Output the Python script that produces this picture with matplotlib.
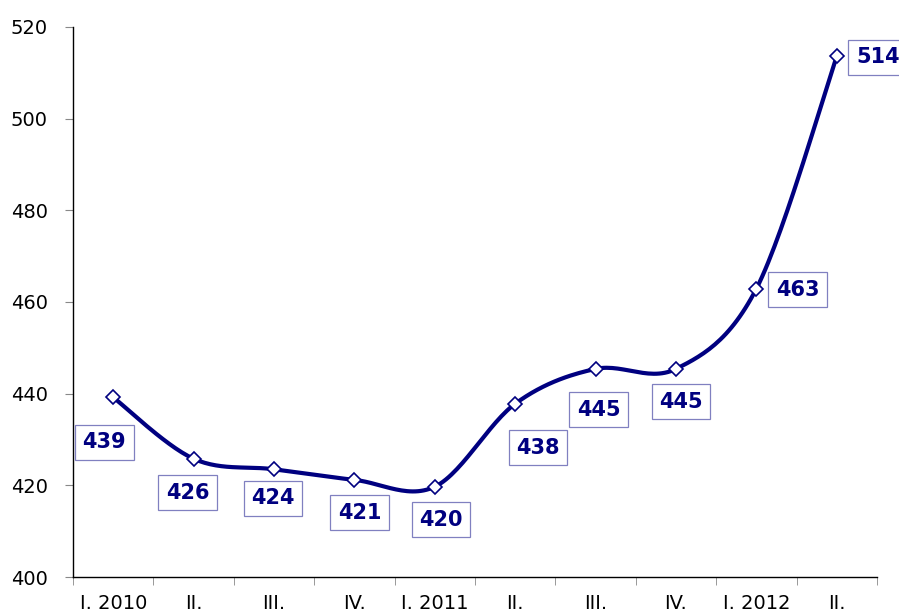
import numpy as np
import matplotlib.pyplot as plt
from matplotlib.ticker import FixedLocator

# data
categories = ['I. 2010', 'II.', 'III.', 'IV.', 'I. 2011', 'II.', 'III.', 'IV.', 'I. 2012', 'II.']
values = [439.2, 425.8, 423.5, 421.2, 419.7, 437.8, 445.4, 445.4, 462.9, 513.6]
value_labels = ['439', '426', '424', '421', '420', '438', '445', '445', '463', '514']

# label offsets in pixels (dx, dy) from each point
label_offsets = [(-9, -45), (-6, -34), (-1, -29), (5, -33), (6, -33),
                 (23, -44), (3, -41), (5, -33), (41, -1), (41, -1)]

NAVY = '#000080'


def smooth_curve(x, y, steps=30):
    # excel-like smoothed line (catmull-rom as cubic bezier)
    x = np.asarray(x, float)
    y = np.asarray(y, float)
    px = np.concatenate(([x[0]], x, [x[-1]]))
    py = np.concatenate(([y[0]], y, [y[-1]]))
    xs, ys = [], []
    t = np.linspace(0, 1, steps)
    for i in range(1, len(px) - 2):
        p0 = np.array([px[i], py[i]])
        p3 = np.array([px[i + 1], py[i + 1]])
        c1 = p0 + (np.array([px[i + 1], py[i + 1]]) - np.array([px[i - 1], py[i - 1]])) / 6
        c2 = p3 - (np.array([px[i + 2], py[i + 2]]) - np.array([px[i], py[i]])) / 6
        b = ((1 - t)[:, None] ** 3 * p0 + 3 * ((1 - t) ** 2 * t)[:, None] * c1
             + 3 * ((1 - t) * t ** 2)[:, None] * c2 + (t ** 3)[:, None] * p3)
        xs.extend(b[:, 0])
        ys.extend(b[:, 1])
    return np.array(xs), np.array(ys)


plt.rcParams['font.family'] = ['DejaVu Sans Condensed', 'DejaVu Sans']

fig = plt.figure(figsize=(8.99, 6.13), dpi=100)
ax = fig.add_axes([0.0812, 0.0587, 0.8943, 0.8973])

x = np.arange(len(categories))
sx, sy = smooth_curve(x, values)
ax.plot(sx, sy, color=NAVY, linewidth=3.0, solid_capstyle='round', zorder=2)
ax.plot(x, values, linestyle='none', marker='D', markersize=7.5,
        markerfacecolor='white', markeredgecolor=NAVY, markeredgewidth=1.2, zorder=3)

for xi, yi, lab, (dx, dy) in zip(x, values, value_labels, label_offsets):
    ax.annotate(lab, (xi, yi), xytext=(dx * 0.72, dy * 0.72), textcoords='offset points',
                ha='center', va='center', fontsize=15, fontweight='bold', color=NAVY,
                bbox=dict(boxstyle='square,pad=0.36', facecolor='white',
                          edgecolor='#8080c0', linewidth=0.9),
                annotation_clip=False, zorder=4)

ax.set_xlim(-0.5, len(categories) - 0.5)
ax.set_ylim(400, 520)
ax.set_yticks(np.arange(400, 521, 20))
ax.set_xticks(x)
ax.set_xticklabels(categories)
ax.xaxis.set_minor_locator(FixedLocator(np.arange(-0.5, len(categories), 1.0)))

ax.spines['top'].set_visible(False)
ax.spines['right'].set_visible(False)
for s in ('left', 'bottom'):
    ax.spines[s].set_linewidth(1.0)
    ax.spines[s].set_color('black')

ax.tick_params(axis='x', which='major', length=0, labelsize=14, pad=12)
ax.tick_params(axis='x', which='minor', length=6, color='#888888', direction='out')
ax.tick_params(axis='y', length=6, color='#888888', labelsize=14, pad=12)

fig.savefig('out.png', dpi=100)
